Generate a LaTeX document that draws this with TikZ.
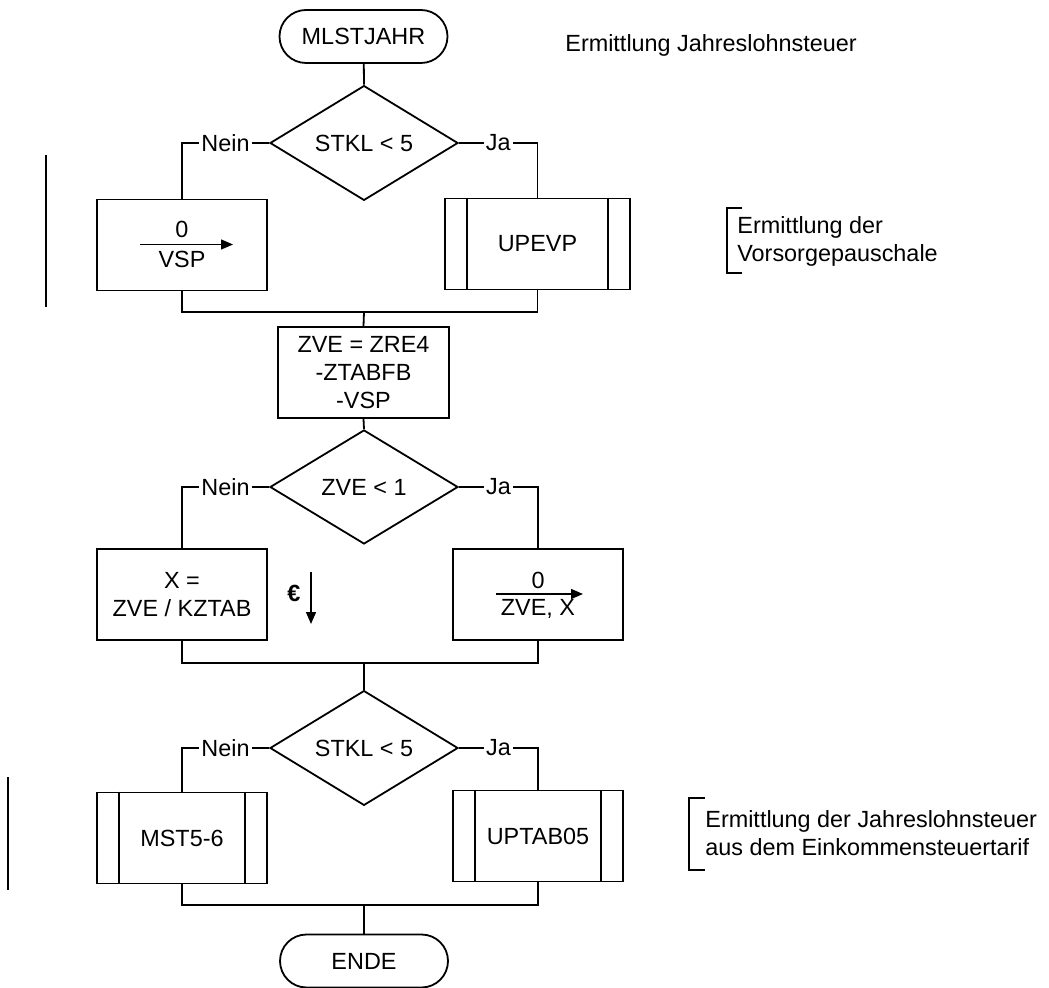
\documentclass[tikz,border=0pt]{standalone}
\usepackage{fontspec}
\setmainfont{Liberation Sans}
\usetikzlibrary{shapes.geometric,shapes.misc,arrows.meta}
\begin{document}
\begin{tikzpicture}[x=0.5pt,y=-0.5pt,
  every node/.style={font=\fontsize{11.7}{14}\selectfont},
  line/.style={line width=0.9pt},
  term/.style={draw,line width=0.9pt,rounded rectangle,minimum width=84pt,minimum height=26.5pt,inner sep=0pt},
  decision/.style={draw,line width=0.9pt,diamond,minimum width=94pt,minimum height=57pt,inner sep=0pt},
  proc/.style={draw,line width=0.9pt,rectangle,minimum width=85pt,minimum height=45.5pt,inner sep=0pt,align=center},
  sub/.style={draw,line width=0.9pt,rectangle,minimum width=85pt,minimum height=45.5pt,inner sep=0pt},
  lbl/.style={fill=white,inner sep=1pt},
  note/.style={align=left,anchor=west,inner sep=0pt}
]
\useasboundingbox (0,0) rectangle (1049,988);
% top
\node[term] (start) at (363.5,36.5) {MLSTJAHR};
\node[note] (t1) at (565,45) {Ermittlung Jahreslohnsteuer};
\node[decision] (d1) at (364,143) {STKL < 5};
\node[proc] (b1) at (182,245) {};
\node[sub,minimum width=92.5pt] (b2) at (537.5,244) {UPEVP};
\draw[line] ([xshift=11.5pt]b2.north west) -- ([xshift=11.5pt]b2.south west);
\draw[line] ([xshift=-11.5pt]b2.north east) -- ([xshift=-11.5pt]b2.south east);
% VSP assignment
\node (v0) at (182,229) {0};
\node (v1) at (182,259) {VSP};
\coordinate (va) at (140,244.5);
\coordinate (vb) at (233,244.5);
\draw[line width=0.7pt,-{Triangle[length=6pt,width=5pt]}] (va) -- (vb);
\draw[line] (start) -- (d1.north);
\draw[line] (d1.west) -- node[lbl]{Nein} (d1.west -| b1) -- (b1.north);
\draw[line] (d1.east) -- node[lbl]{Ja} (d1.east -| b2) -- (b2.north);
\coordinate (m1) at (364,312);
\draw[line] (b1.south) |- (m1) -| (b2.south);
% annotation 1
\coordinate (br1a) at (742,208);
\coordinate (br1b) at (727,208);
\coordinate (br1c) at (727,273);
\coordinate (br1d) at (742,273);
\draw[line width=0.8pt] (br1a) -- (br1b) -- (br1c) -- (br1d);
\node[note,align=left] (t2) at (737,241) {Ermittlung der\\Vorsorgepauschale};
\coordinate (l1a) at (46,155);
\coordinate (l1b) at (46,307);
\draw[line width=0.8pt] (l1a) -- (l1b);
% ZVE
\node[proc,minimum width=85.5pt] (zve) at (363.5,372.5) {ZVE = ZRE4\\-ZTABFB\\-VSP};
\draw[line] (m1) -- (zve.north);
\node[decision] (d2) at (364,487) {ZVE < 1};
\draw[line] (zve.south) -- (d2.north);
\node[proc] (b3) at (182,594.5) {X =\\ZVE / KZTAB};
\node[proc] (b4) at (538,594.5) {};
\node (x0) at (538,580) {0};
\node (x1) at (538,609) {ZVE, X};
\coordinate (xa) at (496,594);
\coordinate (xb) at (583,594);
\draw[line width=0.7pt,-{Triangle[length=6pt,width=5pt]}] (xa) -- (xb);
\draw[line] (d2.west) -- node[lbl]{Nein} (d2.west -| b3) -- (b3.north);
\draw[line] (d2.east) -- node[lbl]{Ja} (d2.east -| b4) -- (b4.north);
% euro
\node[font=\fontsize{11.7}{14}\bfseries] (eur) at (294,593) {€};
\coordinate (ea) at (311,572);
\coordinate (eb) at (311,624);
\draw[line width=0.7pt,-{Triangle[length=6pt,width=5pt]}] (ea) -- (eb);
\coordinate (m2) at (364,663);
\draw[line] (b3.south) |- (m2) -| (b4.south);
% third decision
\node[decision] (d3) at (364,748) {STKL < 5};
\draw[line] (m2) -- (d3.north);
\node[sub] (b5) at (182,838) {MST5-6};
\draw[line] ([xshift=11.5pt]b5.north west) -- ([xshift=11.5pt]b5.south west);
\draw[line] ([xshift=-11.5pt]b5.north east) -- ([xshift=-11.5pt]b5.south east);
\node[sub] (b6) at (538,836) {UPTAB05};
\draw[line] ([xshift=11.5pt]b6.north west) -- ([xshift=11.5pt]b6.south west);
\draw[line] ([xshift=-11.5pt]b6.north east) -- ([xshift=-11.5pt]b6.south east);
\draw[line] (d3.west) -- node[lbl]{Nein} (d3.west -| b5) -- (b5.north);
\draw[line] (d3.east) -- node[lbl]{Ja} (d3.east -| b6) -- (b6.north);
\coordinate (m3) at (364,905);
\draw[line] (b5.south) |- (m3) -| (b6.south);
\node[term] (end) at (364,961) {ENDE};
\draw[line] (m3) -- (end.north);
% annotation 2
\coordinate (br2a) at (705,798);
\coordinate (br2b) at (689,798);
\coordinate (br2c) at (689,870);
\coordinate (br2d) at (705,870);
\draw[line width=0.8pt] (br2a) -- (br2b) -- (br2c) -- (br2d);
\node[note,align=left] (t3) at (705,833) {Ermittlung der Jahreslohnsteuer\\aus dem Einkommensteuertarif};
\coordinate (l2a) at (8,777);
\coordinate (l2b) at (8,890);
\draw[line width=0.8pt] (l2a) -- (l2b);
\end{tikzpicture}
\end{document}
